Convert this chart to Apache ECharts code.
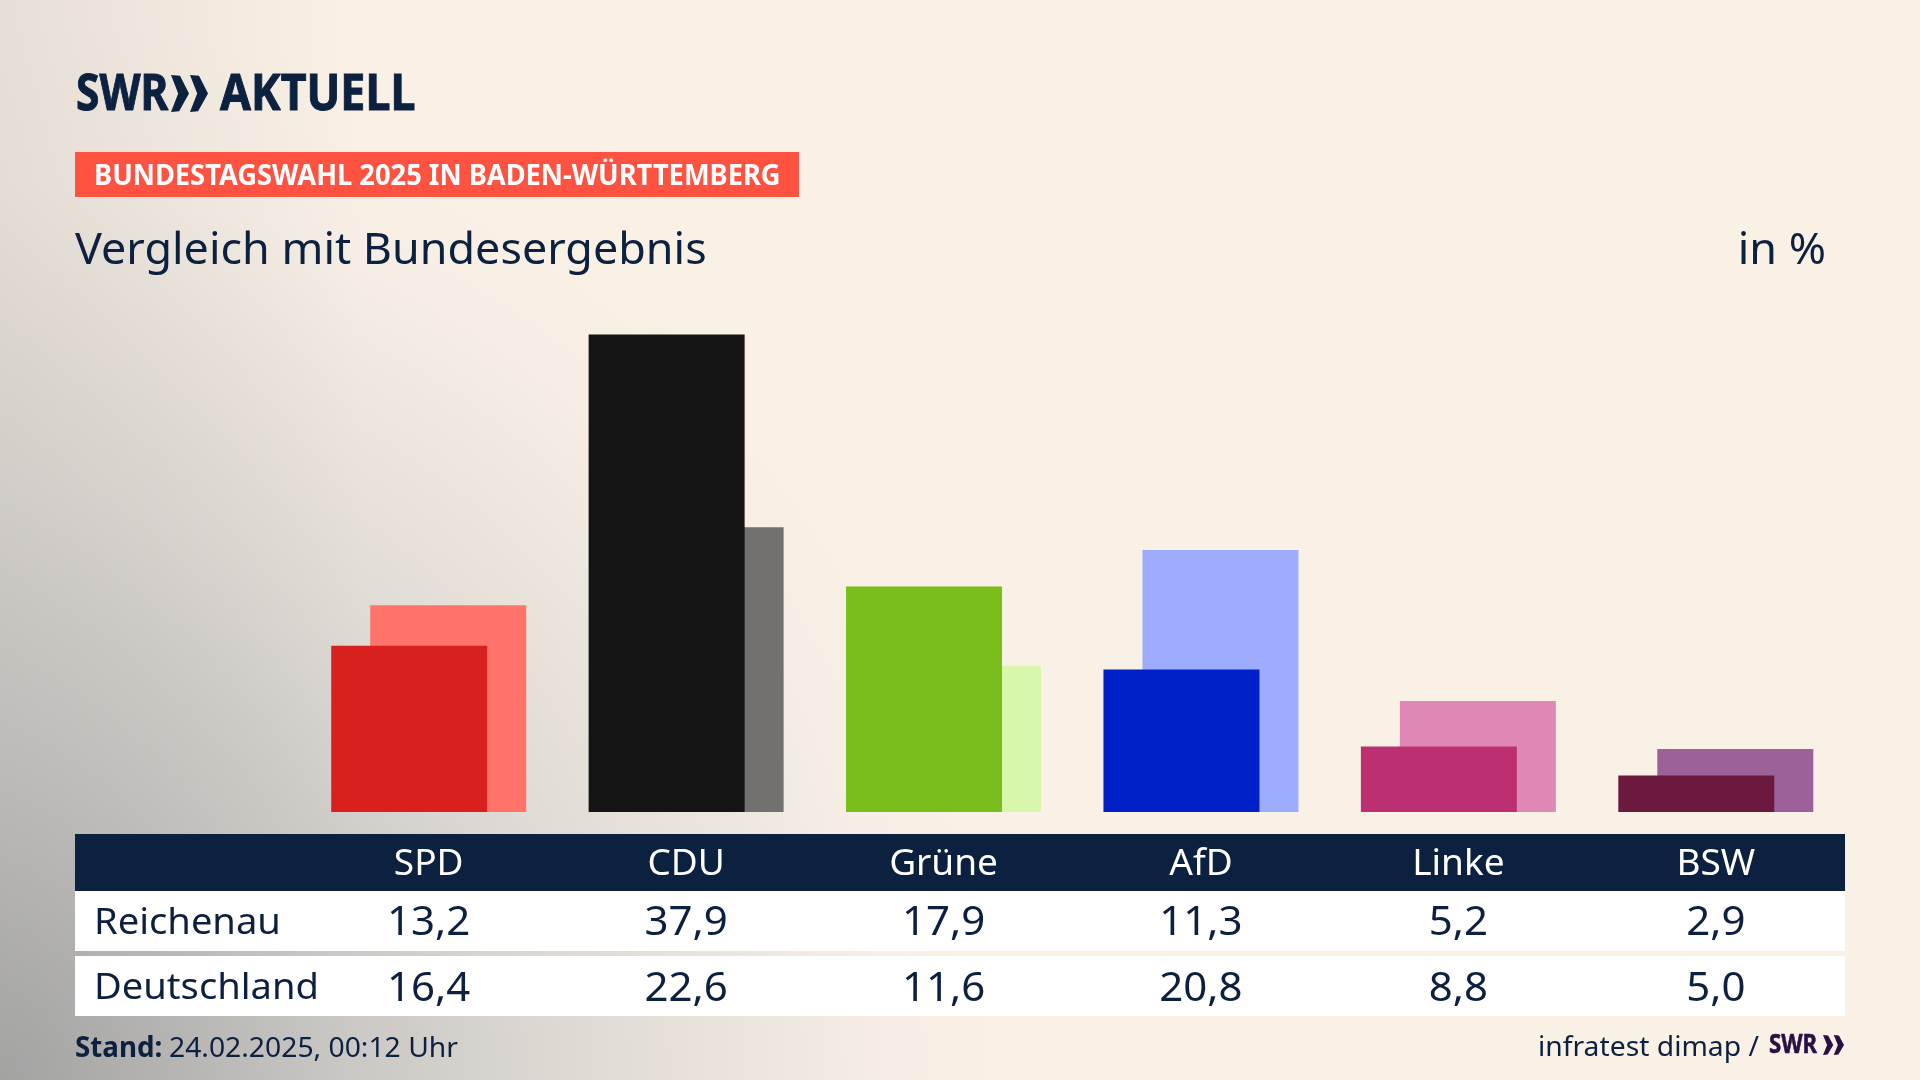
<!DOCTYPE html>
<html>
<head>
<meta charset="utf-8">
<title>Vergleich mit Bundesergebnis</title>
<style>
html,body{margin:0;padding:0;background:#faf1e6}
#chart{width:1920px;height:1080px}
</style>
<script src="https://cdn.jsdelivr.net/npm/echarts@6/dist/echarts.min.js"></script>
</head>
<body>
<div id="chart"></div>
<script>
var parties = ['SPD','CDU','Grüne','AfD','Linke','BSW'];
var rowNames = ['Reichenau','Deutschland'];
var reichenau = [13.2,37.9,17.9,11.3,5.2,2.9];
var deutschland = [16.4,22.6,11.6,20.8,8.8,5.0];
var frontColors = ['#d8201e','#141414','#7abd1c','#0020c8','#bc3072','#6b1a3e'];
var backColors = ['#ff736b','#72716f','#d8f7ad','#9dacff','#df88b5','#9c6198'];

var navy = '#0c2040';
var font = '"Noto Sans"';

function colored(values, colors){
	return values.map(function(v,i){
		return {value:v, itemStyle:{color:colors[i]}};
	});
}

function fmt(v){
	return v.toFixed(1).replace('.',',');
}

// text helper, sx stretches the glyphs to the width of the original font
function txt(text,x,y,size,color,opt){
	opt = opt || {};
	return {
		type:'text', x:x, y:y, scaleX:opt.sx || 1, silent:true, z:10,
		style:{
			text:text, x:0, y:0,
			fill:color,
			stroke:opt.stroke ? color : null,
			lineWidth:opt.stroke || 0,
			font:(opt.weight || 'normal')+' '+size+'px '+font,
			align:opt.align || 'left',
			verticalAlign:'middle'
		}
	};
}

function box(x,y,w,h,color){
	return {type:'rect', silent:true, z:5, shape:{x:x,y:y,width:w,height:h}, style:{fill:color}};
}

function chevrons(x,y,w,h,gap,color){
	var cw = (w-gap)/2, out = [];
	[0,1].forEach(function(n){
		var l = x+n*(cw+gap);
		out.push({
			type:'polygon', silent:true, z:10,
			shape:{points:[[l,y],[l+cw*0.5,y+h*0.02],[l+cw,y+h*0.5],[l+cw*0.45,y+h*0.98],[l,y+h],[l+cw*0.4,y+h*0.5]]},
			style:{fill:color}
		});
	});
	return out;
}

var chart = echarts.init(document.getElementById('chart'));

chart.setOption({
	animation:false,
	backgroundColor:new echarts.graphic.RadialGradient(0,1,1.1,[
		{offset:0,color:'#a9a9a8'},
		{offset:0.25,color:'#c6c4c1'},
		{offset:0.5,color:'#e0dbd5'},
		{offset:0.75,color:'#f6eee4'},
		{offset:0.9,color:'#faf1e6'},
		{offset:1,color:'#faf1e6'}
	]),
	grid:{left:300,top:308,width:1544.5,height:504,containLabel:false},
	xAxis:{type:'category',data:parties,show:false},
	yAxis:{type:'value',min:0,max:40,show:false},
	series:[{
		name:rowNames[0],
		type:'bar',
		z:3,
		barWidth:156,
		barGap:'-75%',
		data:colored(reichenau,frontColors)
	},{
		name:rowNames[1],
		type:'bar',
		z:2,
		barWidth:156,
		data:colored(deutschland,backColors)
	}]
});

// grey veil along the left edge, sits below the bars
var veil = {
	type:'rect', silent:true, z:-1,
	shape:{x:0,y:0,width:360,height:1080},
	style:{fill:new echarts.graphic.LinearGradient(0,0,1,0,[
		{offset:0,color:'rgba(130,130,130,0.16)'},
		{offset:1,color:'rgba(130,130,130,0)'}
	])}
};

// column centres come from the category axis
var els = [
	veil,
	box(75,152,724,45,'#ff5240'),
	box(75,834,1770,57,navy),
	box(75,891,1770,60,'#ffffff'),
	box(75,956,1770,60,'#ffffff'),
	txt('SWR',76,96,50,navy,{weight:'bold',sx:0.85,stroke:1}),
	txt('AKTUELL',220,96,50,navy,{weight:'bold',sx:0.895,stroke:1}),
	txt('BUNDESTAGSWAHL 2025 IN BADEN-WÜRTTEMBERG',94,177,29,'#ffffff',{weight:'bold',sx:0.94}),
	txt('Vergleich mit Bundesergebnis',75,251,44,navy,{sx:1.02}),
	txt('in %',1826,251,44,navy,{align:'right',sx:1.02}),
	txt(rowNames[0],94,923,37,navy,{sx:1.03}),
	txt(rowNames[1],94,988,37,navy,{sx:1.03}),
	txt('Stand:',75,1049,28,navy,{weight:'bold',sx:0.99}),
	txt('24.02.2025, 00:12 Uhr',169,1049,28,navy,{sx:1.01}),
	txt('infratest dimap /',1759,1048,28,navy,{align:'right',sx:1.01}),
	txt('SWR',1769,1046,26,'#2a0f45',{weight:'bold',sx:0.85,stroke:0.6})
];
els = els.concat(chevrons(171,75,37,37,1,navy));
els = els.concat(chevrons(1823,1035,21,20,0.5,'#2a0f45'));

parties.forEach(function(p,i){
	var cx = chart.convertToPixel({xAxisIndex:0},p);
	els.push(txt(p,cx,864,37,'#ffffff',{align:'center'}));
	els.push(txt(fmt(reichenau[i]),cx,924,40,navy,{align:'center',sx:1.05}));
	els.push(txt(fmt(deutschland[i]),cx,990,40,navy,{align:'center',sx:1.05}));
});

chart.setOption({graphic:{elements:els}});
</script>
</body>
</html>
